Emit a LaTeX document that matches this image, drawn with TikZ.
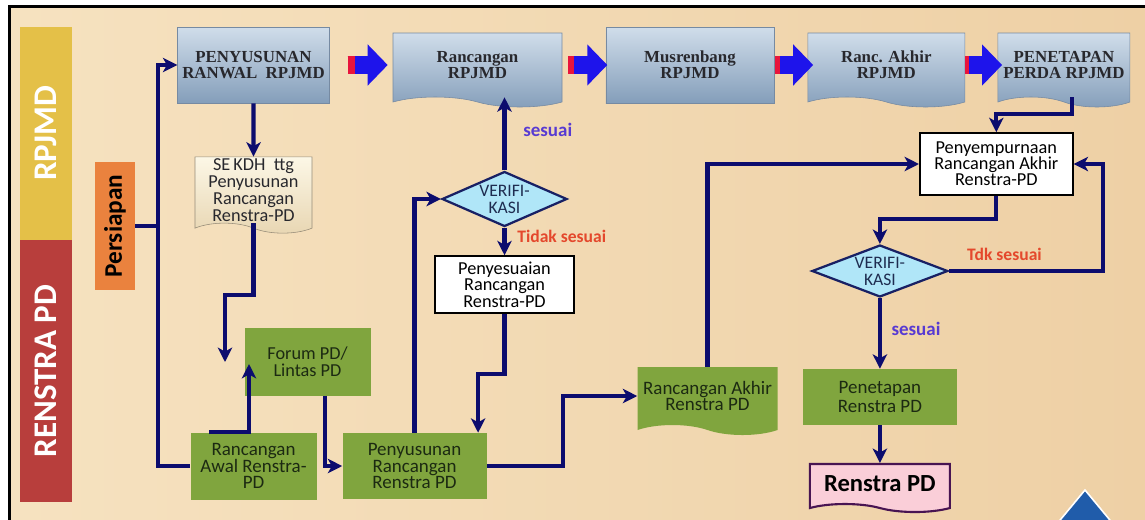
\documentclass[tikz,border=0pt]{standalone}
\usepackage{fontspec}
\setmainfont{Carlito}
\newfontfamily\titlefont{Liberation Serif}
\usepackage{tikz}
\usetikzlibrary{shapes,shapes.geometric,shapes.symbols,arrows.meta,positioning,calc}
\definecolor{bgleft}{RGB}{246,226,192}
\definecolor{bgright}{RGB}{238,208,165}
\definecolor{toplight}{RGB}{208,221,234}
\definecolor{topdark}{RGB}{132,158,186}
\definecolor{topedge}{RGB}{118,138,162}
\definecolor{toptext}{RGB}{40,40,45}
\definecolor{leafgreen}{RGB}{128,165,62}
\definecolor{leaftext}{RGB}{28,42,18}
\definecolor{notelight}{RGB}{252,247,230}
\definecolor{notedark}{RGB}{232,214,178}
\definecolor{noteedge}{RGB}{150,140,120}
\definecolor{rpjmdcol}{RGB}{228,192,72}
\definecolor{renstracol}{RGB}{184,62,60}
\definecolor{prepcol}{RGB}{234,130,62}
\definecolor{checkfill}{RGB}{176,230,248}
\definecolor{checkedge}{RGB}{24,32,100}
\definecolor{checktext}{RGB}{30,44,80}
\definecolor{navyline}{RGB}{12,12,110}
\definecolor{okcol}{RGB}{88,58,210}
\definecolor{nocol}{RGB}{228,72,44}
\definecolor{pinkfill}{RGB}{250,206,216}
\definecolor{purpleedge}{RGB}{72,20,82}
\definecolor{arrred}{RGB}{232,20,60}
\definecolor{arrblue}{RGB}{30,20,235}
\definecolor{navtri}{RGB}{32,92,170}
\tikzset{
    strip/.style={
           rotate=90,
           minimum height=13mm,
           inner sep=0pt,
           text=white,
           font=\bfseries\fontsize{23.5}{23.5}\selectfont
           },
    prep/.style={
           rotate=90,
           fill=prepcol,
           minimum width=32mm,
           minimum height=10mm,
           inner sep=0pt,
           font=\bfseries\fontsize{18}{18}\selectfont
           },
    topbox/.style={
           rectangle,
           draw=topedge, thin,
           top color=toplight, bottom color=topdark,
           minimum height=19mm,
           align=center,
           text=toptext,
           font=\titlefont\bfseries\fontsize{12}{11.5}\selectfont
           },
    topdoc/.style={
           topbox,
           tape, tape bend top=none, tape bend bottom=out and in,
           tape bend height=2.5mm,
           minimum height=18.5mm
           },
    docnote/.style={
           tape, tape bend top=none, tape bend bottom=out and in,
           tape bend height=2.5mm,
           draw=noteedge, thin,
           top color=notelight, bottom color=notedark,
           minimum width=29.25mm, minimum height=19mm,
           inner sep=1pt,
           align=center,
           text=toptext,
           font=\fontsize{13}{12.2}\selectfont
           },
    greenbox/.style={
           rectangle,
           fill=leafgreen,
           inner sep=1pt,
           align=center,
           text=leaftext,
           font=\fontsize{13.5}{12}\selectfont
           },
    greendoc/.style={
           greenbox,
           tape, tape bend top=none, tape bend bottom=out and in,
           tape bend height=2.5mm
           },
    whitebox/.style={
           rectangle,
           draw=black, line width=1.2pt,
           fill=white,
           inner sep=1pt,
           align=center,
           font=\fontsize{13}{11.5}\selectfont
           },
    check/.style={
           diamond, aspect=2.3,
           draw=checkedge, line width=1.6pt,
           fill=checkfill,
           minimum width=31.25mm, minimum height=13.75mm,
           inner sep=0pt,
           align=center,
           text=checktext,
           font=\fontsize{12.5}{12}\selectfont
           },
    final/.style={
           tape, tape bend top=none, tape bend bottom=out and in,
           tape bend height=2mm,
           draw=purpleedge, line width=1.5pt,
           fill=pinkfill,
           minimum width=35mm, minimum height=12mm,
           font=\bfseries\fontsize{17.5}{18}\selectfont
           },
    bigarr/.style={
           draw=arrblue,
           line width=4.5mm,
           -{Triangle[length=5mm,width=10mm]},
           postaction={draw=arrred, -, shorten >=8.25mm}
           },
    conn/.style={
           draw=navyline,
           line width=3pt
           },
    lbl/.style={
           font=\bfseries\fontsize{12.5}{12}\selectfont
           }
}
\begin{document}
\begin{tikzpicture}[x=0.25mm, y=-0.25mm, >={Stealth[length=3.6mm,width=3.6mm,inset=1mm]}, node distance=20mm, on grid]
   % page, frame and corner mark
   \useasboundingbox (0,0) rectangle (1145,519);
   \fill[white] (0,0) rectangle (1145,519);
   \shade[left color=bgleft, right color=bgright] (9,6) rectangle (1145,519);
   \draw[line width=0.75mm] (9.5,530) -- (9.5,6.5) -- (1150,6.5);
   \filldraw[fill=navtri, draw=white, line width=0.4mm] (1085,490) -- (1114,525) -- (1056,525) -- cycle;

   % side labels
   \node[strip, fill=rpjmdcol, minimum width=53.25mm] (rpjmd) at (46,133.5) {RPJMD};
   \node[strip, fill=renstracol, minimum width=65.5mm] (renstrapd) at (46,371) {RENSTRA PD};
   \node[prep] (persiapan) at (115,226) {Persiapan};

   % RPJMD row
   \node[topbox, minimum width=35.75mm] (ranwal) at (253.5,65) {PENYUSUNAN\\RANWAL~~RPJMD};
   \node[topdoc, minimum width=42.25mm] (rancangan) [right=56mm of ranwal] {Rancangan\\RPJMD};
   \node[topbox, minimum width=42mm] (musren) [right=53.1mm of rancangan] {Musrenbang\\RPJMD};
   \node[topdoc, minimum width=39.25mm] (ranakhir) [right=49.1mm of musren] {Ranc. Akhir\\RPJMD};
   \node[topdoc, minimum width=33mm] (perda) [right=44.4mm of ranakhir] {PENETAPAN\\PERDA RPJMD};
   \draw[bigarr] ($(ranwal.east)+(18,0)$) -- ++(40,0);
   \draw[bigarr] ($(rancangan.west -| rancangan.east)+(6,0)$) -- ++(39,0);
   \draw[bigarr] ($(musren.east)+(1,0)$) -- ++(38,0);
   \draw[bigarr] ($(ranakhir.west -| ranakhir.east)+(0,0)$) -- ++(37,0);

   % Renstra PD steps
   \node[docnote] (sekdh) [below=31.25mm of ranwal] {SE\,KDH~~ttg\\Penyusunan\\Rancangan\\Renstra-PD};
   \node[greenbox, minimum width=31.5mm, minimum height=16.75mm] (awal) [below=69mm of sekdh] {Rancangan\\Awal Renstra-\\PD};
   \node[greenbox, minimum width=31.5mm, minimum height=17mm, font=\fontsize{13}{12.5}\selectfont] (forum) [above right=26.1mm and 13.5mm of awal] {Forum PD/\\Lintas PD};
   \node[greenbox, minimum width=36mm, minimum height=16.5mm] (penyus) [right=40.25mm of awal] {Penyusunan\\Rancangan\\Renstra PD};
   \node[check] (cek1) [above right=66.75mm and 22.5mm of penyus] {VERIFI-\\KASI};
   \node[whitebox, minimum width=34.75mm, minimum height=14.25mm] (sesuaikan) [below=21.4mm of cek1] {Penyesuaian\\Rancangan\\Renstra-PD};
   \node[greendoc, minimum width=35mm, minimum height=17mm] (rakhir) [above right=17.5mm and 73.25mm of penyus] {Rancangan Akhir\\Renstra PD};
   \node[whitebox, minimum width=38.25mm, minimum height=15.5mm] (sempurna) [below left=24.75mm and 16.9mm of perda] {Penyempurnaan\\Rancangan Akhir\\Renstra-PD};
   \node[check, minimum width=34mm, minimum height=13mm] (cek2) [below left=26.75mm and 29.1mm of sempurna] {VERIFI-\\KASI};
   \node[greenbox, minimum width=38.5mm, minimum height=14mm, font=\fontsize{13.5}{14}\selectfont] (tetap) [below=31.5mm of cek2] {Penetapan\\Renstra PD};
   \node[final] (renstra) [below=21.75mm of tetap] {Renstra PD};

   % connectors
   \coordinate (spine) at (158,226);
   \coordinate (k1) at (225,295);
   \coordinate (k2) at (225,362);
   \coordinate (k3) at (249,364);
   \draw[conn] (persiapan.south) -- (spine);
   \draw[conn,->] (spine) |- (ranwal.west);
   \draw[conn] (spine) |- (awal.west);
   \draw[conn,->] (ranwal) -- (sekdh);
   \draw[conn,->] (sekdh.south) |- (k1) -- (k2);
   \draw[conn,->] ($(awal.north west)!.15!(awal.north east)$) -| (k3);
   \draw[conn,->] ($(forum.south west)!.64!(forum.south east)$) |- (penyus.west);
   \draw[conn,->] (penyus.north) |- (cek1.west);
   \draw[conn,->] (cek1.north) -- (cek1.north |- rancangan.south) node[lbl, pos=.55, right=3mm, text=okcol, font=\bfseries\fontsize{13.5}{13}\selectfont] (ok1) {sesuai};
   \draw[conn,->] (cek1.south) -- (sesuaikan.north) node[lbl, pos=.3, right=1.5mm, text=nocol] (no1) {Tidak sesuai};
   \draw[conn,->] (sesuaikan.south) -- ++(0,60) -| ($(penyus.north west)!.94!(penyus.north east)$);
   \draw[conn,->] (penyus.east) -- ++(76,0) |- (rakhir.west);
   \draw[conn,->] (rakhir.north) |- (sempurna.west);
   \draw[conn,->] ($(perda.south)+(8,0)$) -- ++(0,17) -| (sempurna.north);
   \draw[conn,->] (sempurna.south) -- ++(0,23) -| (cek2.north);
   \draw[conn,->] (cek2.east) -- ++(154,0) node[lbl, pos=.36, above=1mm, text=nocol] (no2) {Tdk sesuai} |- (sempurna.east);
   \draw[conn,->] (cek2.south) -- (tetap.north) node[lbl, pos=.43, right=1.2mm, text=okcol, font=\bfseries\fontsize{13.5}{13}\selectfont] (ok2) {sesuai};
   \draw[conn,->] (tetap.south) -- (renstra.north);
\end{tikzpicture}
\end{document}
